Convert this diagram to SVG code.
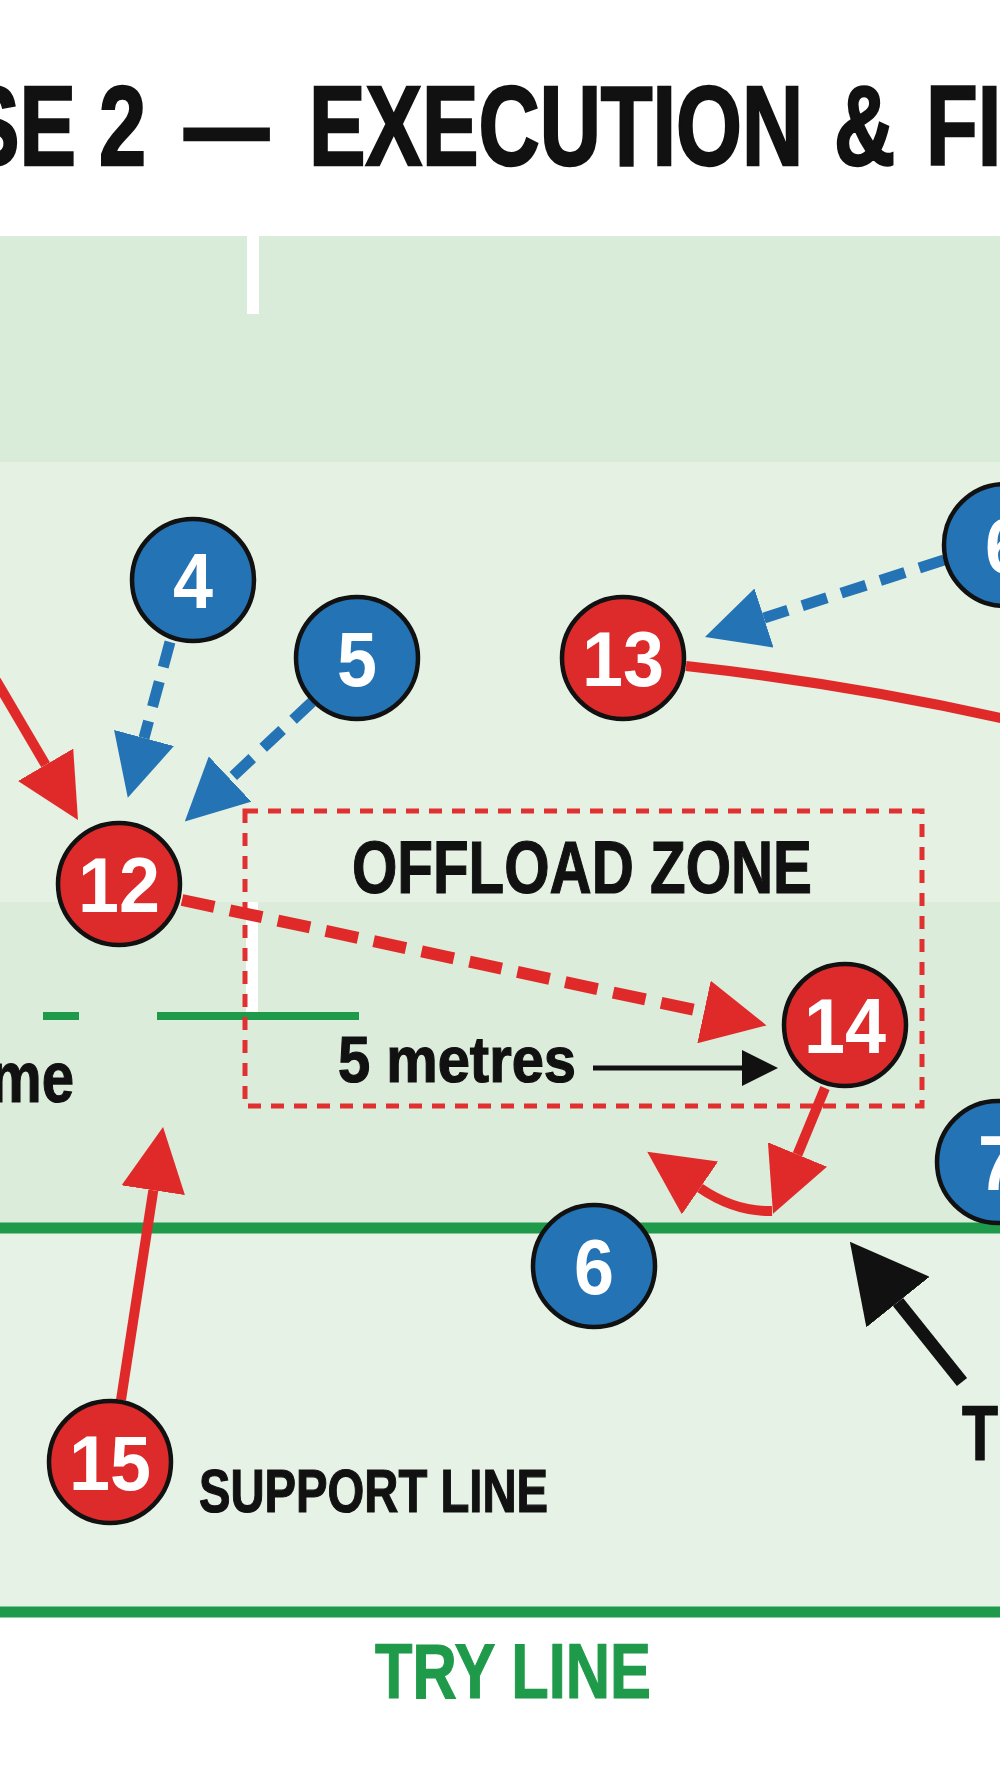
<svg xmlns="http://www.w3.org/2000/svg" width="1000" height="1792" viewBox="0 0 1000 1792">
<defs>
<style>
.t{font-family:"Liberation Sans",Arial,sans-serif;font-weight:bold;}
.heavy{stroke:#111111;stroke-width:1.2;}
.num{fill:#ffffff;font-size:78px;text-anchor:middle;}
.rc{fill:#dd2b2b;stroke:#111111;stroke-width:4.5;}
.bc{fill:#2373b5;stroke:#111111;stroke-width:4.5;}
.redS{fill:none;stroke:#e02a2a;stroke-width:10;}
.redD{fill:none;stroke:#e02a2a;stroke-width:12;stroke-dasharray:33 16;}
.blueD{fill:none;stroke:#2373b5;stroke-width:11;stroke-dasharray:26 15;}
.blk{fill:none;stroke:#111111;}
.green{stroke:#1f9a4a;fill:none;}
</style>
<marker id="hRed" markerUnits="userSpaceOnUse" viewBox="0 0 64 64" refX="0" refY="32" markerWidth="64" markerHeight="64" orient="auto"><path d="M0,0 L64,32 L0,64 Z" fill="#e02a2a"/></marker>
<marker id="hBlue" markerUnits="userSpaceOnUse" viewBox="0 0 62 62" refX="0" refY="31" markerWidth="62" markerHeight="62" orient="auto"><path d="M0,0 L62,31 L0,62 Z" fill="#2373b5"/></marker>
<marker id="hBlk" markerUnits="userSpaceOnUse" viewBox="0 0 36 36" refX="0" refY="18" markerWidth="36" markerHeight="36" orient="auto"><path d="M0,0 L36,18 L0,36 Z" fill="#111111"/></marker>
<marker id="hBig" markerUnits="userSpaceOnUse" viewBox="0 0 77 81" refX="0" refY="40.5" markerWidth="77" markerHeight="81" orient="auto"><path d="M0,0 L77,40.5 L0,81 Z" fill="#111111"/></marker>
</defs>

<g id="field">
<rect x="0" y="0" width="1000" height="1792" fill="#ffffff"/>
<rect x="0" y="236" width="1000" height="226" fill="#d9ecda"/>
<rect x="0" y="462" width="1000" height="440" fill="#e4f1e3"/>
<rect x="0" y="902" width="1000" height="326" fill="#dbecda"/>
<rect x="0" y="1228" width="1000" height="384" fill="#e6f2e6"/>
<rect x="247" y="236" width="12" height="78" fill="#ffffff"/>
<rect x="246" y="902" width="12" height="110" fill="#ffffff"/>
<line class="green" x1="43" y1="1016" x2="79" y2="1016" stroke-width="8"/>
<line class="green" x1="157" y1="1016" x2="359" y2="1016" stroke-width="8"/>
<line class="green" x1="0" y1="1228" x2="1000" y2="1228" stroke-width="11"/>
<line class="green" x1="0" y1="1612" x2="1000" y2="1612" stroke-width="11"/>
</g>

<g id="title">
<text class="t" font-size="114" y="165" fill="#111111" stroke="#111111" stroke-width="2.5" transform="scale(0.743 1)"><tspan x="-49.8">SE </tspan><tspan x="133.2">2 </tspan><tspan x="248">— </tspan><tspan x="415.9">EXECUTION </tspan><tspan x="1122.5">&amp; </tspan><tspan x="1246.3">FI</tspan></text>
</g>

<g id="offload-zone">
<rect x="245" y="811" width="677" height="295" fill="none" stroke="#e03030" stroke-width="5" stroke-dasharray="13 10"/>
<text class="t heavy" x="352" y="893" font-size="74" fill="#111111" textLength="460" lengthAdjust="spacingAndGlyphs">OFFLOAD ZONE</text>
</g>

<g id="connectors">
<path class="redS" d="M-10 670 L45.6 764.8" marker-end="url(#hRed)"/>
<path class="blueD" d="M170 642 L144 738" marker-end="url(#hBlue)"/>
<path class="blueD" d="M312 702 L230 779" marker-end="url(#hBlue)"/>
<path class="blueD" d="M944 560 L764 618" marker-end="url(#hBlue)"/>
<path class="redS" d="M686 666 Q850 684 1010 720"/>
<path class="redD" d="M182 900 L704 1012" marker-end="url(#hRed)"/>
<path class="blk" stroke-width="5" d="M593 1068 L742 1068" marker-end="url(#hBlk)"/>
<path class="redS" d="M825 1088 L797.5 1154.5" marker-end="url(#hRed)"/>
<path class="redS" d="M772 1211 Q735 1212 700 1188" marker-end="url(#hRed)"/>
<path class="redS" d="M121 1400 L153.3 1190.2" marker-end="url(#hRed)"/>
<path class="blk" stroke-width="13" d="M962 1382 L898 1302" marker-end="url(#hBig)"/>
</g>

<g id="node-4"><circle class="bc" cx="193" cy="580" r="61"/><text class="t num" x="193" y="608" textLength="40" lengthAdjust="spacingAndGlyphs">4</text></g>
<g id="node-5"><circle class="bc" cx="357" cy="658" r="61"/><text class="t num" x="357" y="686" textLength="40" lengthAdjust="spacingAndGlyphs">5</text></g>
<g id="node-12"><circle class="rc" cx="119" cy="884" r="61"/><text class="t num" x="119" y="912" textLength="82" lengthAdjust="spacingAndGlyphs">12</text></g>
<g id="node-13"><circle class="rc" cx="623" cy="658" r="61"/><text class="t num" x="623" y="686" textLength="82" lengthAdjust="spacingAndGlyphs">13</text></g>
<g id="node-6-top"><circle class="bc" cx="1005" cy="545" r="61"/><text class="t num" x="1005" y="573" textLength="40" lengthAdjust="spacingAndGlyphs">6</text></g>
<g id="node-14"><circle class="rc" cx="845" cy="1025" r="61"/><text class="t num" x="845" y="1053" textLength="82" lengthAdjust="spacingAndGlyphs">14</text></g>
<g id="node-7"><circle class="bc" cx="998" cy="1162" r="61"/><text class="t num" x="998" y="1190" textLength="40" lengthAdjust="spacingAndGlyphs">7</text></g>
<g id="node-6"><circle class="bc" cx="594" cy="1266" r="61"/><text class="t num" x="594" y="1294" textLength="40" lengthAdjust="spacingAndGlyphs">6</text></g>
<g id="node-15"><circle class="rc" cx="110" cy="1462" r="61"/><text class="t num" x="110" y="1490" textLength="82" lengthAdjust="spacingAndGlyphs">15</text></g>

<g id="labels">
<text class="t heavy" x="338" y="1082" font-size="64" fill="#111111" textLength="238" lengthAdjust="spacingAndGlyphs">5 metres</text>
<text class="t heavy" x="-10" y="1102" font-size="73" fill="#111111" textLength="84" lengthAdjust="spacingAndGlyphs">me</text>
<text class="t heavy" x="199" y="1512" font-size="61" fill="#111111" textLength="349" lengthAdjust="spacingAndGlyphs">SUPPORT LINE</text>
<text class="t heavy" x="962" y="1460" font-size="77" fill="#111111" textLength="36" lengthAdjust="spacingAndGlyphs">T</text>
<text class="t" x="375" y="1698" font-size="77" fill="#1f9a4a" stroke="#1f9a4a" stroke-width="1.2" textLength="276" lengthAdjust="spacingAndGlyphs">TRY LINE</text>
</g>
</svg>
